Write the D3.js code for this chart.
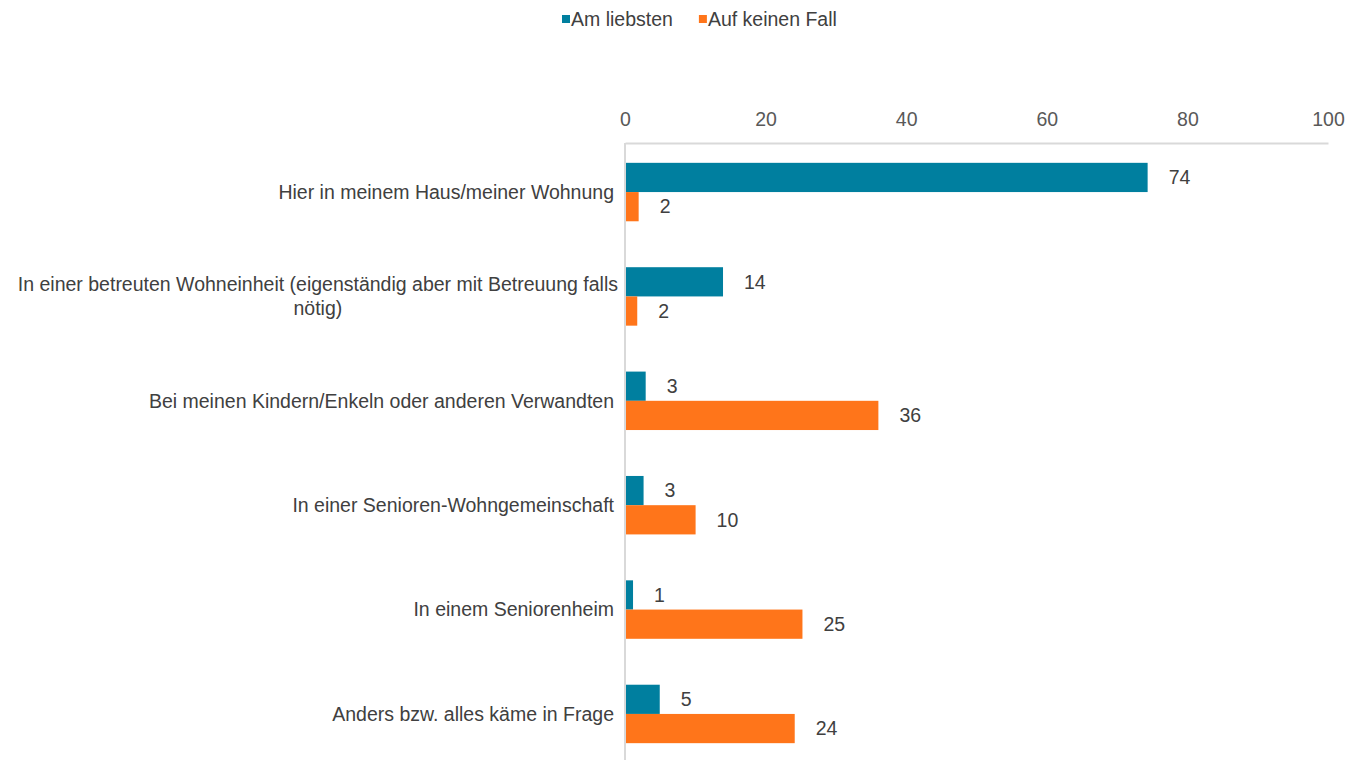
<!DOCTYPE html>
<html>
<head>
<meta charset="utf-8">
<script src="https://cdn.jsdelivr.net/npm/d3@7"></script>
<style>
  body { margin: 0; background: #fff; }
  text { font-family: "Liberation Sans", Arial, sans-serif; }
</style>
</head>
<body>
<div id="chart"></div>
<script>
// values (labels show rounded numbers)
const categories = [
    ["Hier in meinem Haus/meiner Wohnung"],
    ["In einer betreuten Wohneinheit (eigenständig aber mit Betreuung falls", "nötig)"],
    ["Bei meinen Kindern/Enkeln oder anderen Verwandten"],
    ["In einer Senioren-Wohngemeinschaft"],
    ["In einem Seniorenheim"],
    ["Anders bzw. alles käme in Frage"]
];
const seriesNames = ["Am liebsten", "Auf keinen Fall"];
const amLiebsten = [74.2, 13.8, 2.8, 2.5, 1.0, 4.8];
const aufKeinenFall = [1.8, 1.6, 35.9, 9.9, 25.1, 24.0];
const xTicks = [0, 20, 40, 60, 80, 100];
const colors = ["#007f9f", "#ff751a"];

const width = 1357, height = 760;
const margin = { top: 143, left: 625, right: 29 };
const fontSize = 19.5;

const svg = d3.select("#chart").append("svg")
    .attr("width", width)
    .attr("height", height);

const xScale = d3.scaleLinear()
    .domain([0, 100])
    .range([margin.left, width - margin.right]);

// plot area runs a little past the bottom of the window
const yScale = d3.scaleBand()
    .domain(d3.range(categories.length))
    .range([margin.top, 763])
    .paddingInner(0.44)
    .paddingOuter(0.19);

const sub = d3.scaleBand()
    .domain([0, 1])
    .range([0, yScale.bandwidth()]);

// top axis
const xAxis = d3.axisTop(xScale).tickValues(xTicks).tickSize(0).tickPadding(17);
const gx = svg.append("g")
    .attr("transform", `translate(0,${margin.top})`)
    .call(xAxis);
gx.select(".domain").attr("stroke", "#d9d9d9").attr("stroke-width", 2);
gx.selectAll("text").attr("font-size", fontSize).attr("fill", "#595959")
    .attr("font-family", "Liberation Sans, Arial, sans-serif");

// vertical category axis line
svg.append("line")
    .attr("x1", xScale(0)).attr("x2", xScale(0))
    .attr("y1", margin.top).attr("y2", height)
    .attr("stroke", "#d9d9d9").attr("stroke-width", 2);

const fmt = d3.format(".0f");
const series = [amLiebsten, aufKeinenFall];

series.forEach((vals, si) => {
    const g = svg.append("g");
    g.selectAll("rect").data(vals).join("rect")
        .attr("x", xScale(0) + 1)
        .attr("y", (d, i) => yScale(i) + sub(si))
        .attr("width", d => xScale(d) - xScale(0))
        .attr("height", sub.bandwidth())
        .attr("fill", colors[si]);
    g.selectAll("text").data(vals).join("text")
        .attr("x", d => xScale(d) + 22)
        .attr("y", (d, i) => yScale(i) + sub(si) + sub.bandwidth() / 2)
        .attr("dy", "0.35em")
        .attr("font-size", fontSize)
        .attr("fill", "#404040")
        .text(d => fmt(d));
});

// category labels
const labelX = 614;
categories.forEach((lines, i) => {
    const cy = yScale(i) + yScale.bandwidth() / 2;
    const t = svg.append("text")
        .attr("font-size", fontSize)
        .attr("fill", "#404040");
    if (lines.length === 1) {
        t.attr("x", labelX).attr("y", cy).attr("dy", "0.35em")
            .attr("text-anchor", "end").text(lines[0]);
    } else {
        // wrapped label: lines centred on the first line
        t.attr("text-anchor", "middle");
        const first = t.append("tspan").text(lines[0]);
        const w = first.node().getComputedTextLength();
        const mid = labelX + 4 - w / 2;
        const lh = 24;
        t.selectAll("tspan").remove();
        lines.forEach((ln, j) => {
            t.append("tspan")
                .attr("x", mid)
                .attr("y", cy - lh * (lines.length - 1) / 2 + j * lh)
                .attr("dy", "0.35em")
                .text(ln);
        });
    }
});

// legend
const legend = svg.append("g").attr("transform", "translate(562,19)");
let lx = 0;
seriesNames.forEach((name, i) => {
    legend.append("rect")
        .attr("x", lx).attr("y", -4)
        .attr("width", 8).attr("height", 8)
        .attr("fill", colors[i]);
    const txt = legend.append("text")
        .attr("x", lx + 9).attr("y", 0).attr("dy", "0.35em")
        .attr("font-size", fontSize).attr("fill", "#404040")
        .text(name);
    lx += 9 + txt.node().getComputedTextLength() + 26;
});
</script>
</body>
</html>
